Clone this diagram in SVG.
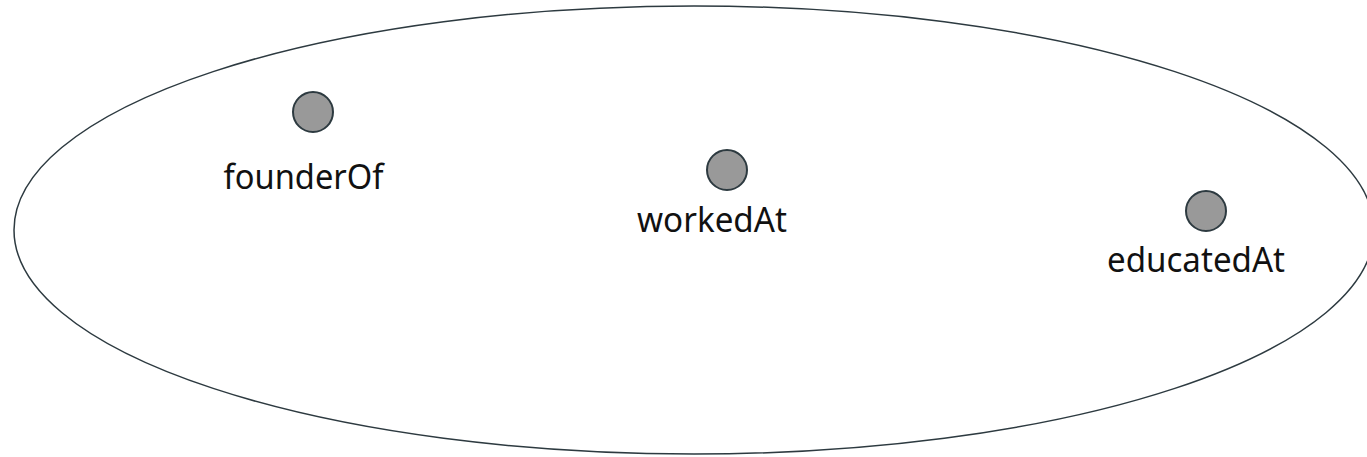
<svg xmlns="http://www.w3.org/2000/svg" width="1367" height="457" viewBox="0 0 1367 457">
<style>
.node circle{fill:#999999;stroke:#2d3a40;stroke-width:2}
.node text{font-family:"Noto Sans","Open Sans",sans-serif;font-size:34px;fill:#111;text-anchor:middle}
</style>
<rect width="1367" height="457" fill="#ffffff"/>
<g id="set">
<ellipse cx="694" cy="230" rx="680" ry="224" fill="none" stroke="#2d3a40" stroke-width="1.5"/>
</g>
<g id="connectors"></g>
<g id="founderOf" class="node">
<circle cx="313" cy="112" r="20"/>
<text x="303.5" y="189" textLength="160" lengthAdjust="spacingAndGlyphs">founderOf</text>
</g>
<g id="workedAt" class="node">
<circle cx="727" cy="170" r="20"/>
<text x="712" y="232" textLength="150" lengthAdjust="spacingAndGlyphs">workedAt</text>
</g>
<g id="educatedAt" class="node">
<circle cx="1206" cy="211" r="20"/>
<text x="1196" y="272" textLength="178" lengthAdjust="spacingAndGlyphs">educatedAt</text>
</g>
</svg>
